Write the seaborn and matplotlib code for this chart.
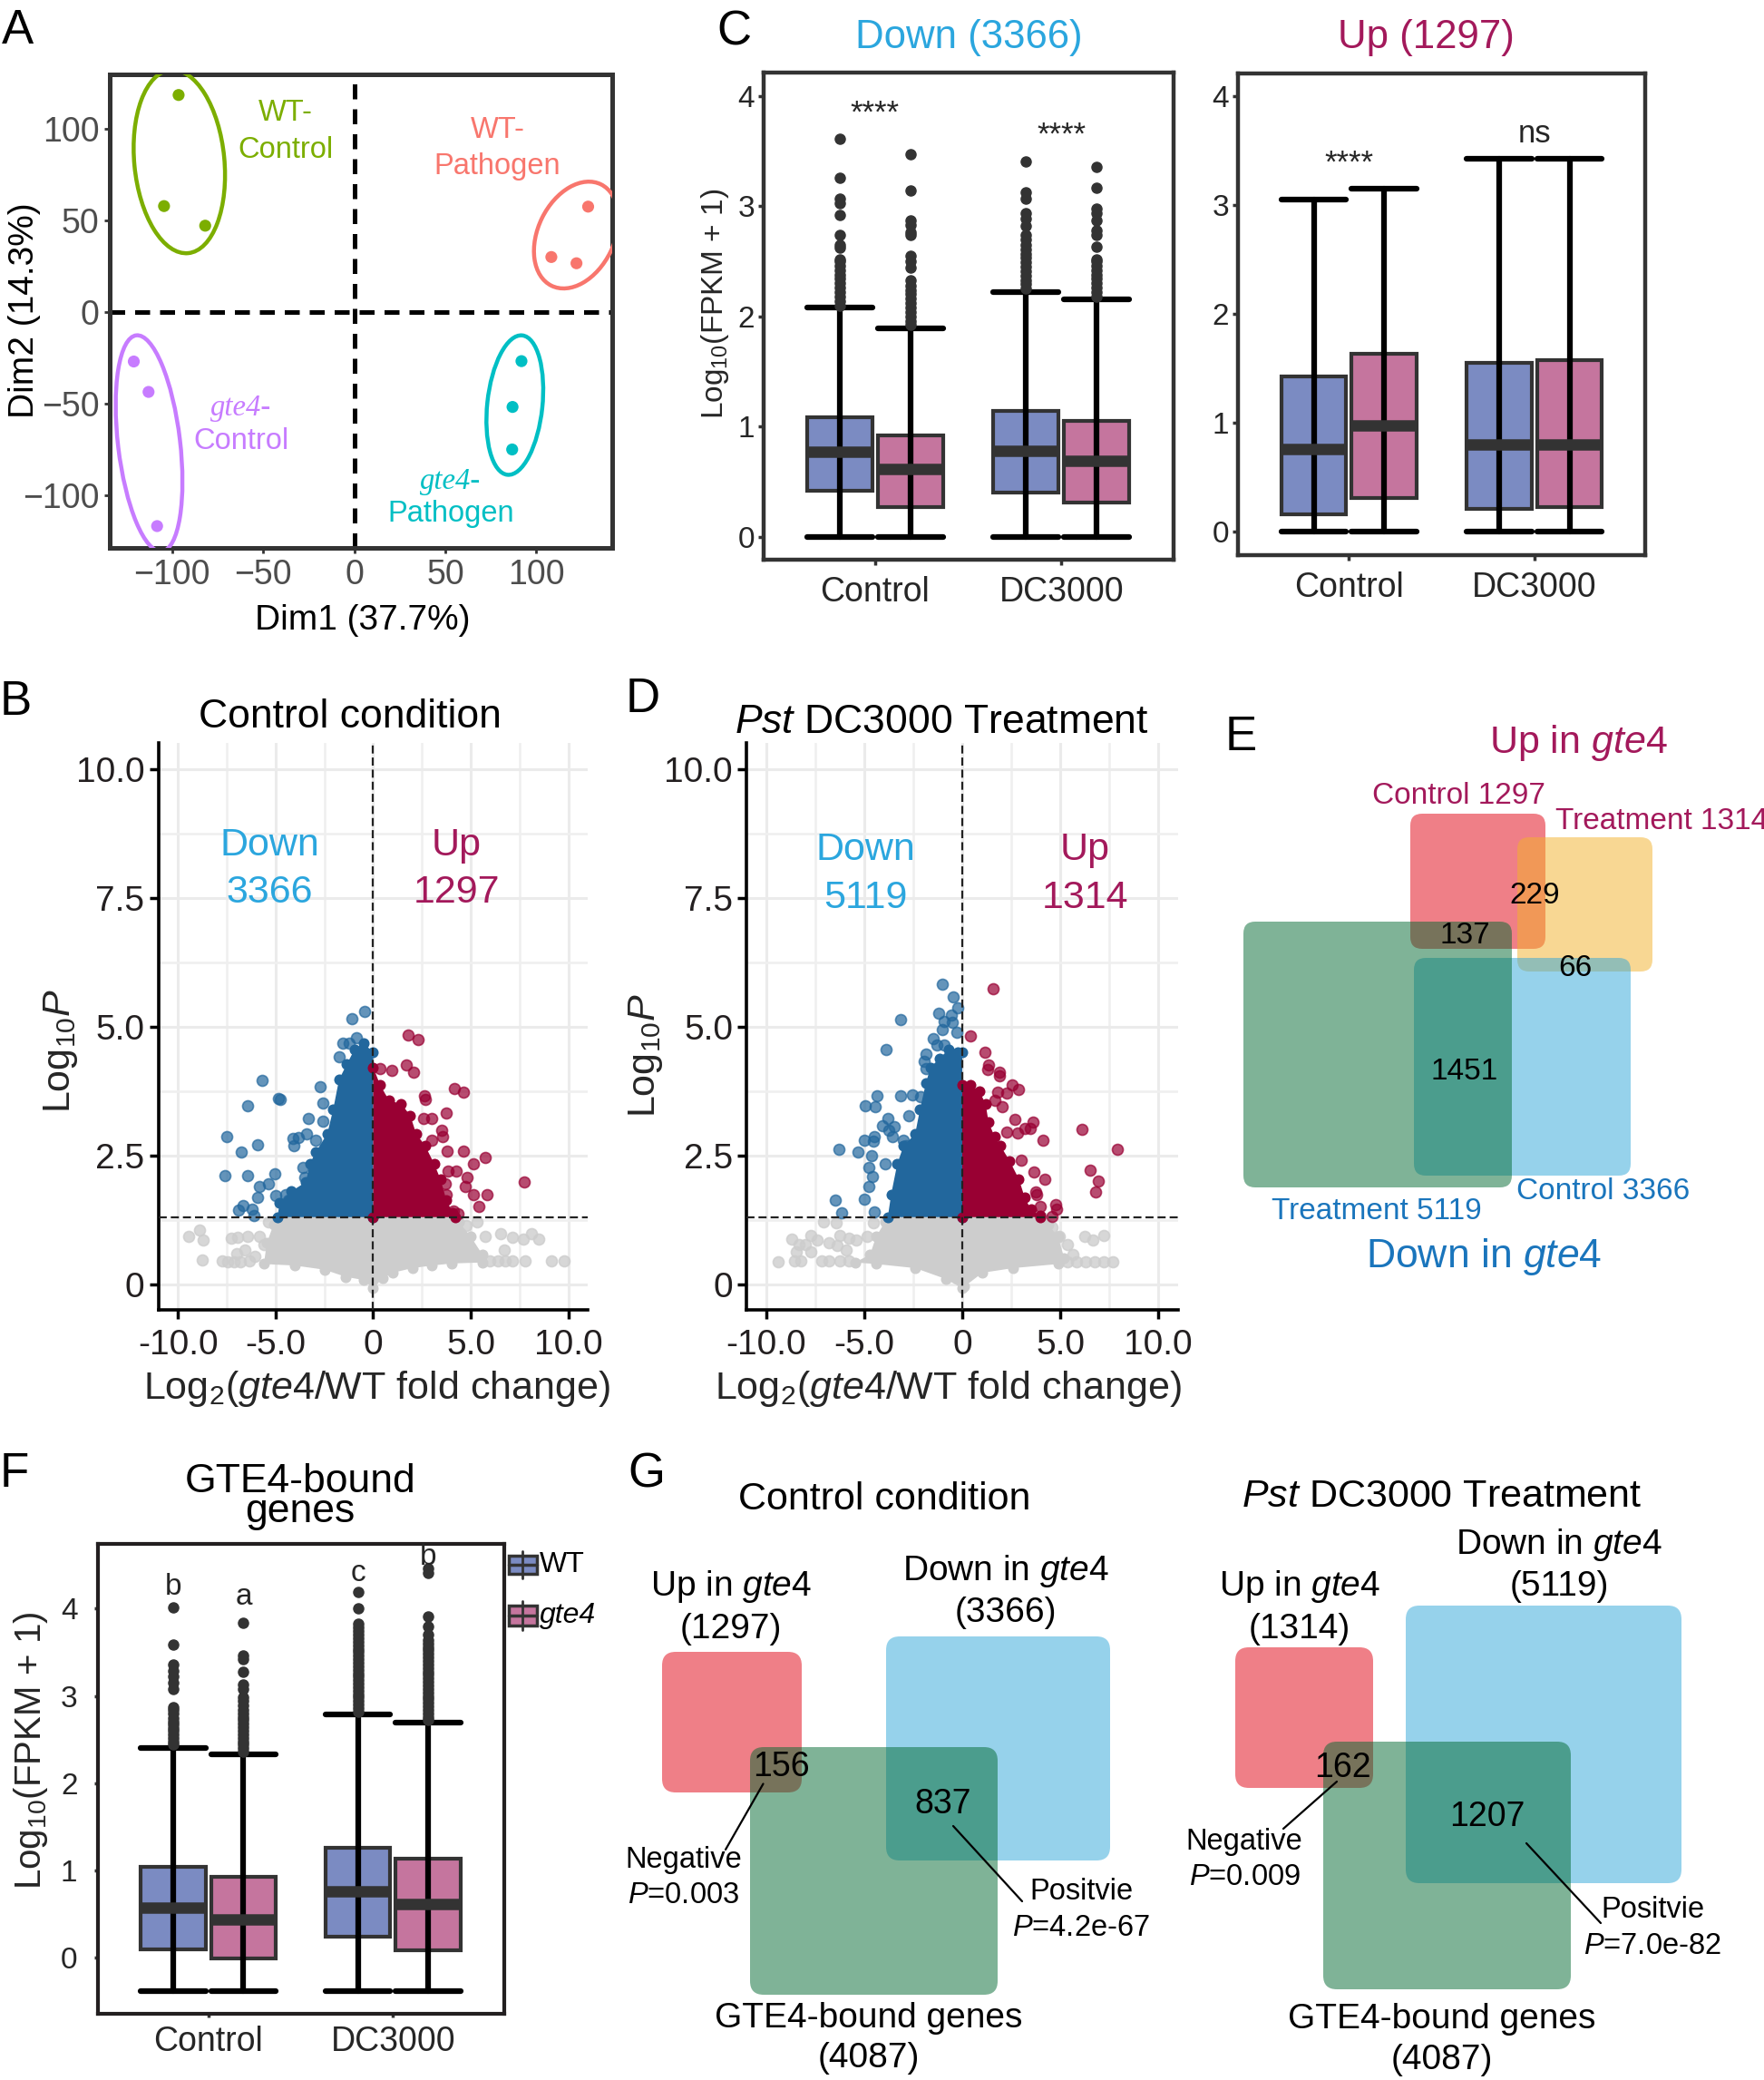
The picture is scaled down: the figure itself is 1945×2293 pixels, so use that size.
import numpy as np
import pandas as pd
import matplotlib
matplotlib.use("Agg")
import matplotlib.pyplot as plt
import seaborn as sns
from matplotlib.patches import Ellipse, FancyBboxPatch, Rectangle

# ---------------- DATA ----------------
# Panel A (PCA)
pca_group = ["WT-Control"] * 3 + ["WT-Pathogen"] * 3 + ["gte4-Control"] * 3 + ["gte4-Pathogen"] * 3
pca_dim1 = [-96.4, -104.4, -81.8, 128.4, 108.2, 122.0, -121.0, -112.9, -108.2, 91.8, 86.9, 86.7]
pca_dim2 = [118.6, 58.0, 47.3, 57.7, 30.2, 26.8, -26.8, -43.4, -116.6, -26.6, -51.6, -74.8]

# Panel C (box statistics: WT-Control, gte4-Control, WT-DC3000, gte4-DC3000)
down_q1 = [0.42, 0.27, 0.40, 0.31]
down_med = [0.77, 0.61, 0.78, 0.69]
down_q3 = [1.08, 0.92, 1.14, 1.05]
down_lo = [0.0, 0.0, 0.0, 0.0]
down_hi = [2.08, 1.89, 2.22, 2.15]
down_fl_wt_ctrl = [2.10, 2.14, 2.18, 2.22, 2.26, 2.30, 2.34, 2.38, 2.42, 2.46, 2.50, 2.52, 2.62, 2.65, 2.74, 2.92, 3.03, 3.07, 3.26, 3.61]
down_fl_g_ctrl = [1.92, 1.96, 2.00, 2.04, 2.08, 2.12, 2.16, 2.20, 2.24, 2.28, 2.33, 2.44, 2.50, 2.55, 2.74, 2.76, 2.83, 2.87, 3.14, 3.47]
down_fl_wt_dc = [2.25, 2.29, 2.33, 2.37, 2.41, 2.45, 2.49, 2.53, 2.57, 2.61, 2.65, 2.70, 2.74, 2.82, 2.89, 2.94, 3.07, 3.13, 3.41]
down_fl_g_dc = [2.18, 2.22, 2.26, 2.30, 2.34, 2.38, 2.42, 2.46, 2.50, 2.52, 2.63, 2.74, 2.78, 2.87, 2.94, 2.98, 3.17, 3.36]
up_q1 = [0.16, 0.31, 0.21, 0.23]
up_med = [0.76, 0.98, 0.80, 0.80]
up_q3 = [1.43, 1.64, 1.55, 1.58]
up_lo = [0.0, 0.0, 0.0, 0.0]
up_hi = [3.05, 3.15, 3.43, 3.43]
c_categories = ["Control", "DC3000"]
c_down_sig = ["****", "****"]
c_down_sig_y = [3.84, 3.64]
c_up_sig = ["****", "ns"]
c_up_sig_y = [3.39, 3.66]

# Panel B volcano (Control)
b_down_x = [-0.45, -1.11, -0.85, -1.23, -1.54, -1.73, -5.68, -4.85, -4.78, -6.44,
            -2.72, -2.56, -3.32, -2.58, -7.50, -5.90, -6.76, -4.12, -3.84, -4.06,
            -7.59, -6.42, -5.06, -5.83, -5.37, -5.91, -5.00, -6.65, -6.91, -6.19,
            -6.11, -4.50, -4.35, -3.58, -3.50, -2.96, -3.43]
b_down_y = [5.29, 5.16, 4.79, 4.68, 4.68, 4.41, 3.95, 3.61, 3.59, 3.47,
            3.83, 3.52, 3.22, 3.17, 2.86, 2.70, 2.56, 2.82, 2.85, 2.68,
            2.10, 2.10, 2.15, 1.90, 1.94, 1.68, 1.71, 1.53, 1.44, 1.45,
            1.33, 1.74, 1.63, 2.27, 2.07, 2.80, 2.92]
b_up_x = [1.79, 2.29, 0.33, 0.94, 1.71, 2.05, 4.14, 4.60, 2.64, 2.67,
          3.75, 2.59, 2.98, 3.52, 3.55, 2.98, 3.80, 4.60, 5.76, 5.14,
          7.72, 4.80, 4.71, 4.26, 3.83, 5.14, 5.84, 5.40, 4.09, 4.34,
          3.67, 3.75]
b_up_y = [4.84, 4.75, 4.18, 4.15, 4.25, 4.12, 3.80, 3.73, 3.65, 3.59,
          3.32, 3.22, 3.22, 2.99, 2.86, 2.80, 2.58, 2.58, 2.46, 2.33,
          1.99, 2.07, 1.89, 2.20, 2.20, 1.73, 1.74, 1.51, 1.42, 1.36,
          1.95, 1.74]
b_ns_x = [-9.44, -8.89, -8.72, -8.75, -7.75, -7.44, -7.13, -6.82, -7.28, -6.94,
          -6.44, -7.00, -6.59, -6.36, -6.08, -5.82, -5.59, -5.35, 4.75, 5.30,
          5.73, 6.53, 7.15, 7.69, 8.12, 8.46, 6.73, 5.99, 6.38, 6.76,
          7.15, 7.76, 9.12, 9.77]
b_ns_y = [0.93, 1.05, 0.86, 0.47, 0.45, 0.44, 0.44, 0.44, 0.89, 0.91,
          0.92, 0.60, 0.66, 0.45, 0.54, 0.92, 0.77, 1.21, 1.13, 1.20,
          0.92, 0.98, 0.91, 0.87, 0.98, 0.87, 0.67, 0.45, 0.45, 0.45,
          0.45, 0.45, 0.45, 0.45]
# outlines of the dense point clouds
b_down_env_x = [0.0, -4.9, -4.8, -4.2, -3.45, -3.25, -2.95, -2.35, -2.05, -1.75, -1.35, -0.95, -0.5, 0.0]
b_down_env_y = [1.3, 1.3, 1.57, 1.8, 1.98, 2.33, 2.56, 2.92, 3.39, 3.97, 4.27, 4.56, 4.68, 4.5]
b_up_env_x = [0.0, 0.0, 0.36, 0.82, 1.44, 1.9, 2.2, 2.67, 3.13, 3.44, 3.75, 4.06, 4.2]
b_up_env_y = [1.3, 4.21, 3.86, 3.56, 3.5, 3.27, 2.92, 2.68, 2.33, 2.04, 1.63, 1.39, 1.3]
b_ns_env_x = [-4.8, 4.2, 4.4, 5.0, 5.6, 5.6, 4.0, 3.0, 2.0, 1.0, 0.5, 0.0, -0.5, -1.4, -2.5, -4.0, -5.6, -5.45, -5.1]
b_ns_env_y = [1.3, 1.3, 1.2, 0.92, 0.57, 0.42, 0.40, 0.36, 0.31, 0.22, 0.12, -0.08, 0.08, 0.14, 0.28, 0.36, 0.39, 0.8, 1.16]
b_counts = ["3366", "1297"]

# Panel D volcano (Pst DC3000)
d_down_x = [-1.03, -0.46, -0.23, -1.19, -0.57, -3.16, -0.93, -0.51, -1.00, -0.26,
            -3.90, -1.47, -1.31, -0.93, -1.85, -1.93, -1.85, -4.37, -4.94, -4.43,
            -3.13, -2.55, -2.11, -2.73, -3.81, -4.06, -3.47, -3.75, -3.55, -5.02,
            -4.48, -4.52, -6.28, -5.32, -4.63, -4.78, -4.58, -3.94, -4.78, -5.02,
            -6.48, -6.17, -4.48, -3.00, -2.85]
d_down_y = [5.83, 5.57, 5.37, 5.26, 5.23, 5.13, 5.10, 5.09, 4.94, 4.88,
            4.56, 4.77, 4.65, 4.65, 4.47, 4.33, 4.18, 3.65, 3.46, 3.44,
            3.65, 3.67, 3.63, 3.27, 3.22, 3.08, 3.06, 2.98, 2.87, 2.79,
            2.86, 2.77, 2.61, 2.56, 2.49, 2.26, 2.08, 2.33, 1.89, 1.65,
            1.63, 1.38, 1.40, 2.80, 2.68]
d_up_x = [1.57, 0.42, 1.14, 1.34, 1.31, 1.88, 1.91, 2.55, 2.89, 1.81,
          2.27, 1.65, 2.04, 2.70, 3.63, 3.19, 3.47, 2.27, 2.81, 4.12,
          6.10, 7.93, 6.51, 6.94, 6.82, 3.01, 3.66, 4.20, 3.73, 3.81,
          4.77, 4.81, 4.58, 3.97]
d_up_y = [5.73, 4.81, 4.50, 4.25, 4.16, 4.12, 4.04, 3.87, 3.78, 3.73,
          3.71, 3.56, 3.44, 3.20, 3.14, 3.03, 3.03, 2.95, 2.93, 2.79,
          3.00, 2.61, 2.22, 2.00, 1.79, 2.41, 2.17, 2.04, 1.79, 1.74,
          1.55, 1.46, 1.32, 1.50]
d_ns_x = [4.12, 4.58, 4.97, 5.35, 5.66, 6.25, 6.67, 7.20, 5.35, 5.82,
          6.28, 6.74, 7.20, 7.67, -9.38, -8.56, -8.26, -8.72, -8.33, -8.02,
          -7.72, -7.41, -8.49, -7.72, -7.10, -6.44, -7.18, -6.79, -6.25, -5.79,
          -6.79, -6.40, -5.94, -6.25, -5.79, -5.40, -4.86, -4.55]
d_ns_y = [1.19, 1.10, 0.92, 0.77, 0.58, 0.93, 0.86, 0.94, 0.44, 0.44,
          0.44, 0.44, 0.44, 0.44, 0.44, 0.45, 0.45, 0.87, 0.77, 0.76,
          0.95, 0.86, 0.62, 0.62, 1.21, 1.19, 0.45, 0.45, 0.45, 0.45,
          0.80, 0.75, 0.66, 0.95, 0.89, 0.86, 0.92, 1.19]
d_down_env_x = [0.0, -3.8, -3.63, -3.32, -3.0, -2.4, -2.16, -1.85, -1.62, -1.16, -0.69, -0.23, 0.0]
d_down_env_y = [1.3, 1.3, 1.74, 2.33, 2.68, 2.92, 3.39, 3.91, 4.21, 4.38, 4.56, 4.5, 4.5]
d_up_env_x = [0.0, 0.0, 0.42, 0.88, 1.19, 1.34, 1.65, 1.96, 2.42, 2.89, 3.19, 3.5, 3.97, 4.0]
d_up_env_y = [1.3, 3.86, 3.86, 3.74, 3.5, 3.15, 2.86, 2.68, 2.39, 2.04, 1.68, 1.45, 1.33, 1.3]
d_ns_env_x = [-3.63, 4.12, 4.4, 4.89, 5.2, 4.89, 2.58, 1.03, 0.1, 0.0, -0.85, -2.39, -4.4, -5.48, -4.71, -4.4, -3.94]
d_ns_env_y = [1.3, 1.3, 1.15, 0.92, 0.51, 0.39, 0.31, 0.22, -0.05, -0.08, 0.1, 0.31, 0.39, 0.42, 0.57, 0.92, 1.21]
d_counts = ["5119", "1314"]

# Panel E
e_numbers = ["229", "137", "66", "1451"]
e_set_labels = ["Control 1297", "Treatment 1314", "Treatment 5119", "Control 3366"]

# Panel F (GTE4-bound genes)
f_q1 = [0.10, -0.01, 0.24, 0.09]
f_med = [0.58, 0.44, 0.76, 0.62]
f_q3 = [1.04, 0.93, 1.26, 1.14]
f_lo = [-0.38, -0.38, -0.38, -0.38]
f_hi = [2.40, 2.33, 2.79, 2.69]
f_fl_wt_ctrl = [2.44, 2.48, 2.52, 2.56, 2.60, 2.63, 2.67, 2.70, 2.75, 2.80, 2.84, 2.87, 3.08, 3.15, 3.22, 3.29, 3.36, 3.59, 4.01]
f_fl_g_ctrl = [2.36, 2.40, 2.44, 2.48, 2.52, 2.56, 2.60, 2.64, 2.68, 2.72, 2.76, 2.80, 2.84, 2.89, 2.94, 2.98, 3.08, 3.13, 3.28, 3.42, 3.46, 3.84]
f_fl_wt_dc = [2.82, 2.86, 2.90, 2.94, 2.98, 3.02, 3.06, 3.10, 3.14, 3.18, 3.22, 3.26, 3.30, 3.34, 3.38, 3.42, 3.46, 3.50, 3.54, 3.58, 3.62, 3.66, 3.70, 3.74, 3.78, 3.83, 4.00, 4.19]
f_fl_g_dc = [2.72, 2.76, 2.80, 2.84, 2.88, 2.92, 2.96, 3.00, 3.04, 3.08, 3.12, 3.16, 3.20, 3.24, 3.28, 3.32, 3.36, 3.40, 3.44, 3.48, 3.52, 3.56, 3.60, 3.64, 3.70, 3.79, 3.91, 4.41, 4.46]
f_letters = ["b", "a", "c", "b"]
f_letter_y = [4.25, 4.13, 4.40, 4.59]

# Panel G
g_ctrl_counts = ["1297", "3366", "156", "837", "4087"]
g_ctrl_p = ["0.003", "4.2e-67"]
g_trt_counts = ["1314", "5119", "162", "1207", "4087"]
g_trt_p = ["0.009", "7.0e-82"]

# ---------------- STYLE ----------------
sns.set_theme(style="white")
plt.rcParams["font.family"] = ["Liberation Sans", "DejaVu Sans"]
plt.rcParams["mathtext.fontset"] = "custom"
plt.rcParams["mathtext.rm"] = "Liberation Sans"
plt.rcParams["mathtext.it"] = "Liberation Sans:italic"
plt.rcParams["mathtext.bf"] = "Liberation Sans:bold"

W, H = 1945, 2293
fig = plt.figure(figsize=(W / 100, H / 100), dpi=100)
fig.patch.set_facecolor("white")

ov = fig.add_axes([0, 0, 1, 1])
ov.set_xlim(0, W)
ov.set_ylim(H, 0)
ov.axis("off")
ov.set_zorder(10)


def add_ax(l, t, r, b):
    ax = fig.add_axes([l / W, 1 - b / H, (r - l) / W, (b - t) / H])
    ax._pxbox = (l, t, r, b)
    return ax


def label_at(ax, which, px, py):
    l, t, r, b = ax._pxbox
    fx = (px - l) / (r - l)
    fy = 1 - (py - t) / (b - t)
    axis = ax.xaxis if which == "x" else ax.yaxis
    axis.set_label_coords(fx, fy)
    axis.label.set_va("center")
    axis.label.set_ha("center")


def T(x, y, s, size, color="black", ha="center", va="center", **kw):
    ov.text(x, y, s, fontsize=size, color=color, ha=ha, va=va, **kw)


MAG = "#A3195B"
LBLUE = "#2BA6DE"
DBLUE = "#1A75BC"
BOXBLUE = "#7B8BC2"
BOXPINK = "#C5759E"
DARK = "#333333"

# panel letters
for let, x, y in [("A", 2, 48), ("C", 790, 49), ("B", 0, 788), ("D", 690, 785),
                  ("E", 1351, 827), ("F", 0, 1639), ("G", 692, 1639)]:
    T(x, y, let, 38, ha="left", va="baseline")

# ---------------- PANEL A ----------------
axA = add_ax(121.4, 81.7, 675, 603.8)
pal = {"WT-Control": "#7CAE00", "WT-Pathogen": "#F8766D", "gte4-Control": "#C77CFF", "gte4-Pathogen": "#00BFC4"}
dfA = pd.DataFrame({"Dim1": pca_dim1, "Dim2": pca_dim2, "group": pca_group})
sns.scatterplot(data=dfA, x="Dim1", y="Dim2", hue="group", palette=pal, s=90,
                edgecolor="none", legend=False, ax=axA, zorder=3)
for g, sub in dfA.groupby("group"):
    pts = sub[["Dim1", "Dim2"]].to_numpy()
    m = pts.mean(0)
    c = pts - m
    vals, vecs = np.linalg.eigh(np.cov(c.T))
    v1, v2 = vecs[:, 1], vecs[:, 0]
    p1, p2 = c @ v1, c @ v2
    ctr = m + v1 * (p1.max() + p1.min()) / 2 + v2 * (p2.max() + p2.min()) / 2
    a = (p1.max() - p1.min()) / 2 + 14
    b = (p2.max() - p2.min()) / 2 + 14
    ang = np.degrees(np.arctan2(v1[1], v1[0]))
    axA.add_patch(Ellipse(ctr, 2 * a, 2 * b, angle=ang, fill=False, ec=pal[g], lw=3.2, zorder=3))
axA.axvline(0, color="black", lw=3.6, dashes=(3.3, 2.2), zorder=2)
axA.axhline(0, color="black", lw=3.6, dashes=(3.3, 2.2), zorder=2)
axA.set_xlim(-134, 141.6)
axA.set_ylim(-128.4, 130)
axA.set_xticks([-100, -50, 0, 50, 100])
axA.set_xticklabels(["\u2212100", "\u221250", "0", "50", "100"])
axA.set_yticks([-100, -50, 0, 50, 100])
axA.set_yticklabels(["\u2212100", "\u221250", "0", "50", "100"])
axA.tick_params(labelsize=27, labelcolor="#4D4D4D", color=DARK, length=4.5, width=2, pad=4, left=True, bottom=True)
for s in axA.spines.values():
    s.set_color(DARK)
    s.set_linewidth(3.6)
axA.set_xlabel("Dim1 (37.7%)", fontsize=28, color="black")
axA.set_ylabel("Dim2 (14.3%)", fontsize=28, color="black")
label_at(axA, "x", 399.5, 684)
label_at(axA, "y", 27, 342)
axA.text(-37.8, 108.6, "WT-", color=pal["WT-Control"], fontsize=23.5, ha="center", va="center")
axA.text(-37.8, 88.6, "Control", color=pal["WT-Control"], fontsize=23.5, ha="center", va="center")
axA.text(78.9, 99.5, "WT-", color=pal["WT-Pathogen"], fontsize=23.5, ha="center", va="center")
axA.text(78.4, 79.5, "Pathogen", color=pal["WT-Pathogen"], fontsize=23.5, ha="center", va="center")
axA.text(-62, -52, "gte4-", color=pal["gte4-Control"], fontsize=23.5, ha="center", va="center",
         family="Liberation Serif", style="italic")
axA.text(-62, -70.5, "Control", color=pal["gte4-Control"], fontsize=23.5, ha="center", va="center")
axA.text(53, -92, "gte4-", color=pal["gte4-Pathogen"], fontsize=23.5, ha="center", va="center",
         family="Liberation Serif", style="italic")
axA.text(53, -110, "Pathogen", color=pal["gte4-Pathogen"], fontsize=23.5, ha="center", va="center")


# ---------------- box helper ----------------
def boxes(ax, q1, med, q3, lo, hi, fliers, positions, width, whisk_lw=4.5, med_lw=9):
    stats = []
    for i in range(len(q1)):
        stats.append(dict(med=med[i], q1=q1[i], q3=q3[i], whislo=lo[i], whishi=hi[i],
                          fliers=np.array(fliers[i])))
    bp = ax.bxp(stats, positions=positions, widths=width, capwidths=width, patch_artist=True,
                showfliers=True,
                boxprops=dict(edgecolor=DARK, linewidth=3),
                medianprops=dict(color=DARK, linewidth=med_lw, solid_capstyle="butt", zorder=3),
                whiskerprops=dict(color="black", linewidth=whisk_lw),
                capprops=dict(color="black", linewidth=whisk_lw),
                flierprops=dict(marker="o", markerfacecolor=DARK, markeredgecolor=DARK, markersize=8))
    cols = [BOXBLUE, BOXPINK, BOXBLUE, BOXPINK]
    for p, c in zip(bp["boxes"], cols):
        p.set_facecolor(c)
    ax.vlines(positions, q1, q3, color="black", lw=whisk_lw, zorder=2.5)
    return bp


POS = [1 - 0.19, 1 + 0.19, 2 - 0.19, 2 + 0.19]

# ---------------- PANEL C ----------------
axC1 = add_ax(841.6, 80.4, 1293.6, 617)
axC2 = add_ax(1364.7, 81.3, 1814.4, 611.6)
boxes(axC1, down_q1, down_med, down_q3, down_lo, down_hi,
      [down_fl_wt_ctrl, down_fl_g_ctrl, down_fl_wt_dc, down_fl_g_dc], POS, 0.35)
boxes(axC2, up_q1, up_med, up_q3, up_lo, up_hi, [[], [], [], []], POS, 0.35)
for ax, sig, sy in [(axC1, c_down_sig, c_down_sig_y), (axC2, c_up_sig, c_up_sig_y)]:
    ax.set_xlim(0.4, 2.6)
    ax.set_ylim(-0.21, 4.21)
    ax.set_xticks([1, 2])
    ax.set_xticklabels(c_categories)
    ax.set_yticks([0, 1, 2, 3, 4])
    ax.set_yticklabels(["0", "1", "2", "3", "4"])
    ax.tick_params(axis="y", labelsize=24, color=DARK, length=4, width=2.5, pad=3, left=True)
    ax.tick_params(axis="x", labelsize=27, color=DARK, length=4, width=2.5, pad=9, bottom=True)
    for s in ax.spines.values():
        s.set_color(DARK)
        s.set_linewidth(3.2)
    for i, (txt, yy) in enumerate(zip(sig, sy)):
        ax.text(i + 1, yy, txt, fontsize=25, ha="center", va="center")
axC1.set_ylabel(r"$\mathrm{Log}_{10}$(FPKM + 1)", fontsize=24)
label_at(axC1, "y", 788, 335)
T(1068, 42, "Down (3366)", 31.5, LBLUE)
T(1572.5, 42, "Up (1297)", 31.5, MAG)

# ---------------- PANELS B / D ----------------
GRAY = "#CDCDCD"
VBLUE = "#22679D"
VRED = "#990033"
PT = 75


def volcano(ax, ns_env, dn_env, up_env, nsx, nsy, dx, dy, ux, uy):
    ax.fill(ns_env[0], ns_env[1], color=GRAY, lw=0, zorder=2)
    sns.scatterplot(x=ns_env[0], y=ns_env[1], color=GRAY, s=PT, alpha=1, edgecolor=GRAY, linewidth=0, ax=ax, zorder=2)
    sns.scatterplot(x=nsx, y=nsy, color=GRAY, s=PT, alpha=0.8, edgecolor=GRAY, linewidth=1.2, ax=ax, zorder=2)
    ax.fill(dn_env[0], dn_env[1], color=VBLUE, lw=0, zorder=3)
    sns.scatterplot(x=dn_env[0], y=dn_env[1], color=VBLUE, s=PT, alpha=1, edgecolor=VBLUE, linewidth=0, ax=ax, zorder=3)
    sns.scatterplot(x=dx, y=dy, color=VBLUE, s=PT, alpha=0.7, edgecolor=VBLUE, linewidth=1.2, ax=ax, zorder=3)
    ax.fill(up_env[0], up_env[1], color=VRED, lw=0, zorder=3)
    sns.scatterplot(x=up_env[0], y=up_env[1], color=VRED, s=PT, alpha=1, edgecolor=VRED, linewidth=0, ax=ax, zorder=3)
    sns.scatterplot(x=ux, y=uy, color=VRED, s=PT, alpha=0.7, edgecolor=VRED, linewidth=1.2, ax=ax, zorder=3)
    ax.axhline(1.3, color="#222222", lw=1.6, dashes=(4, 2), zorder=4)
    ax.axvline(0, color="#222222", lw=1.6, dashes=(4, 2), zorder=4)
    ax.set_xlim(-11, 11)
    ax.set_ylim(-0.5, 10.5)
    ax.set_xticks([-10, -5, 0, 5, 10])
    ax.set_xticklabels(["-10.0", "-5.0", "0", "5.0", "10.0"])
    ax.set_xticks([-7.5, -2.5, 2.5, 7.5], minor=True)
    ax.set_yticks([0, 2.5, 5, 7.5, 10])
    ax.set_yticklabels(["0", "2.5", "5.0", "7.5", "10.0"])
    ax.set_yticks([1.25, 3.75, 6.25, 8.75], minor=True)
    ax.grid(which="major", color="#EBEBEB", lw=2.2)
    ax.grid(which="minor", color="#EFEFEF", lw=1.8)
    ax.set_axisbelow(True)
    ax.tick_params(which="major", labelsize=28, labelcolor="#231F20", color="black", length=7, width=2.5,
                   pad=4, left=True, bottom=True)
    ax.tick_params(axis="x", which="major", pad=8)
    ax.tick_params(which="minor", length=0)
    for side in ["top", "right"]:
        ax.spines[side].set_visible(False)
    for side in ["left", "bottom"]:
        ax.spines[side].set_color("black")
        ax.spines[side].set_linewidth(2.6)
    ax.set_xlabel(r"$\mathrm{Log}_{2}$($\it{gte4}$/WT fold change)", fontsize=31)
    ax.set_ylabel(r"$\mathrm{Log}_{10}\it{P}$", fontsize=31)


axB = add_ax(174.7, 819.3, 648.3, 1444)
volcano(axB, (b_ns_env_x, b_ns_env_y), (b_down_env_x, b_down_env_y), (b_up_env_x, b_up_env_y),
        b_ns_x, b_ns_y, b_down_x, b_down_y, b_up_x, b_up_y)
label_at(axB, "x", 415, 1531)
label_at(axB, "y", 67, 1158)
axB.text(-5.29, 8.52, "Down", color=LBLUE, fontsize=31, ha="center", va="center", zorder=5)
axB.text(-5.29, 7.6, b_counts[0], color=LBLUE, fontsize=31, ha="center", va="center", zorder=5)
axB.text(4.27, 8.52, "Up", color=MAG, fontsize=31, ha="center", va="center", zorder=5)
axB.text(4.27, 7.6, b_counts[1], color=MAG, fontsize=31, ha="center", va="center", zorder=5)
T(386, 790, "Control condition", 32)

axD = add_ax(823.4, 819.3, 1298.6, 1444)
volcano(axD, (d_ns_env_x, d_ns_env_y), (d_down_env_x, d_down_env_y), (d_up_env_x, d_up_env_y),
        d_ns_x, d_ns_y, d_down_x, d_down_y, d_up_x, d_up_y)
label_at(axD, "x", 1045.5, 1531)
label_at(axD, "y", 712, 1163.5)
axD.text(-4.95, 8.42, "Down", color=LBLUE, fontsize=31, ha="center", va="center", zorder=5)
axD.text(-4.95, 7.5, d_counts[0], color=LBLUE, fontsize=31, ha="center", va="center", zorder=5)
axD.text(6.27, 8.42, "Up", color=MAG, fontsize=31, ha="center", va="center", zorder=5)
axD.text(6.27, 7.5, d_counts[1], color=MAG, fontsize=31, ha="center", va="center", zorder=5)
T(1038, 796, r"$\it{Pst}$ DC3000 Treatment", 32)

# ---------------- PANEL E ----------------
E_RED = "#E10111"
E_YEL = "#F3B129"
E_BLU = "#2FA7D9"
E_GRN = "#016931"


def rbox(x0, y0, x1, y1, color, r=13):
    ov.add_patch(FancyBboxPatch((x0, y0), x1 - x0, y1 - y0, boxstyle=f"round,pad=0,rounding_size={r}",
                                fc=color, ec="none", alpha=0.5))


rbox(1555, 897, 1704, 1046, E_RED)
rbox(1673, 923, 1822, 1071, E_YEL)
rbox(1559, 1056, 1798, 1296, E_BLU)
rbox(1371, 1016, 1667, 1309, E_GRN)
T(1692, 987, e_numbers[0], 24)
T(1615, 1032, e_numbers[1], 24)
T(1737, 1067, e_numbers[2], 24)
T(1615, 1182, e_numbers[3], 24)
T(1740, 819, r"Up in $\it{gte4}$", 31, MAG)
T(1608, 877, e_set_labels[0], 24, MAG)
T(1715, 906, e_set_labels[1], 24, MAG, ha="left")
T(1518, 1336, e_set_labels[2], 24, DBLUE)
T(1768, 1314, e_set_labels[3], 24, DBLUE)
T(1636, 1386, r"Down in $\it{gte4}$", 32, DBLUE)

# ---------------- PANEL F ----------------
axF = add_ax(107.6, 1702, 555.6, 2220.3)
boxes(axF, f_q1, f_med, f_q3, f_lo, f_hi, [f_fl_wt_ctrl, f_fl_g_ctrl, f_fl_wt_dc, f_fl_g_dc], POS, 0.35)
axF.set_xlim(0.4, 2.6)
axF.set_ylim(-0.643, 4.74)
axF.set_xticks([1, 2])
axF.set_xticklabels(c_categories)
axF.set_yticks([0, 1, 2, 3, 4])
axF.set_yticklabels(["0", "1", "2", "3", "4"])
axF.tick_params(axis="y", labelsize=24, color=DARK, length=3, width=2.5, pad=13, left=True)
axF.tick_params(axis="x", labelsize=27, color=DARK, length=3, width=2.5, pad=6, bottom=True)
for s in axF.spines.values():
    s.set_color("#231F20")
    s.set_linewidth(3)
for p, t, yy in zip(POS, f_letters, f_letter_y):
    axF.text(p, yy, t, fontsize=24, ha="center", va="center")
axF.set_ylabel(r"$\mathrm{Log}_{10}$(FPKM + 1)", fontsize=29)
label_at(axF, "y", 33.6, 1930)
T(331, 1650, "GTE4-bound\ngenes", 32, linespacing=0.72)
# legend
for (y0, y1), col, lab, sty in [((1715, 1735), BOXBLUE, "WT", "normal"), ((1770, 1792), BOXPINK, "gte4", "italic")]:
    ov.plot([576.5, 576.5], [y0 - 5, y1 + 5], color=DARK, lw=2)
    ov.add_patch(Rectangle((561, y0), 31, y1 - y0, fc=col, ec=DARK, lw=2.5))
    ov.plot([561, 592], [(y0 + y1) / 2] * 2, color=DARK, lw=2.5)
    T(595, (y0 + y1) / 2, lab, 23, ha="left", style=sty)

# ---------------- PANEL G ----------------
rbox(730, 1821, 884, 1976, E_RED, r=15)
rbox(977, 1804, 1224, 2051, E_BLU, r=15)
rbox(827, 1926, 1100, 2199, E_GRN, r=15)
T(975, 1653, "Control condition", 31)
T(806, 1749, r"Up in $\it{gte4}$", 28)
T(806, 1796, f"({g_ctrl_counts[0]})", 28)
T(1109, 1732, r"Down in $\it{gte4}$", 28)
T(1109, 1778, f"({g_ctrl_counts[1]})", 28)
T(861, 1948, g_ctrl_counts[2], 27)
T(1040, 1989, g_ctrl_counts[3], 27)
ov.plot([841.5, 800], [1966.5, 2039], color="black", lw=1.6)
T(754, 2051, "Negative", 23.5)
T(754, 2090, r"$\it{P}$=" + g_ctrl_p[0], 23.5)
ov.plot([1051, 1127], [2013, 2096], color="black", lw=1.6)
T(1192, 2086, "Positvie", 23.5)
T(1192, 2126, r"$\it{P}$=" + g_ctrl_p[1], 23.5)
T(958, 2225, "GTE4-bound genes", 28)
T(958, 2269, f"({g_ctrl_counts[4]})", 28)

rbox(1362, 1816, 1514, 1971, E_RED, r=15)
rbox(1550, 1770, 1854, 2076, E_BLU, r=15)
rbox(1459, 1920, 1732, 2193, E_GRN, r=15)
T(1590, 1650, r"$\it{Pst}$ DC3000 Treatment", 31)
T(1719, 1703, r"Down in $\it{gte4}$", 28)
T(1719, 1749, f"({g_trt_counts[1]})", 28)
T(1433, 1749, r"Up in $\it{gte4}$", 28)
T(1433, 1796, f"({g_trt_counts[0]})", 28)
T(1480, 1949, g_trt_counts[2], 27)
T(1640, 2003, g_trt_counts[3], 27)
ov.plot([1474, 1415], [1964, 2016], color="black", lw=1.6)
T(1372, 2030, "Negative", 23.5)
T(1372, 2069, r"$\it{P}$=" + g_trt_p[0], 23.5)
ov.plot([1683, 1765], [2032, 2120], color="black", lw=1.6)
T(1822, 2105, "Positvie", 23.5)
T(1822, 2145, r"$\it{P}$=" + g_trt_p[1], 23.5)
T(1590, 2226, "GTE4-bound genes", 28)
T(1590, 2271, f"({g_trt_counts[4]})", 28)

fig.savefig("out.png", dpi=100, facecolor="white")
